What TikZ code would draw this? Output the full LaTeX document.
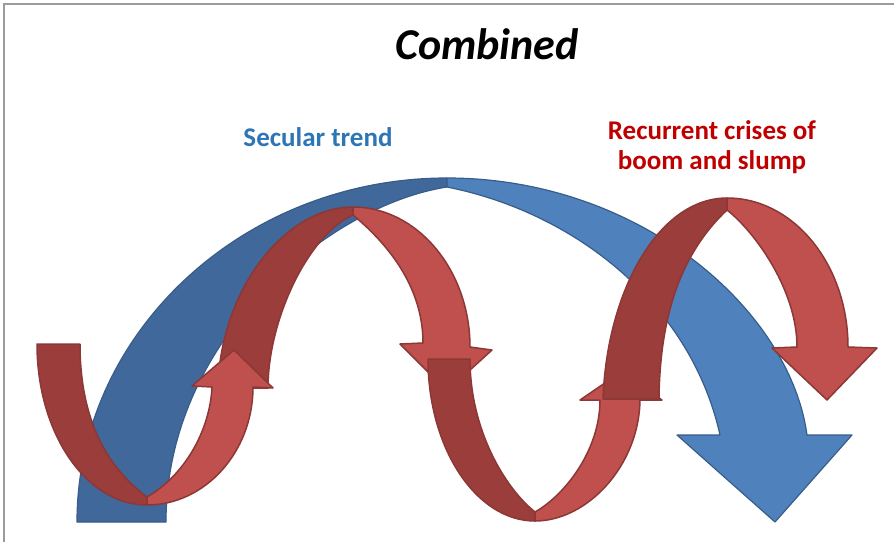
\documentclass[tikz,border=0pt]{standalone}
\usepackage{fontspec}
\setmainfont{Carlito}
\definecolor{bdark}{HTML}{41689A}
\definecolor{blight}{HTML}{4F81BD}
\definecolor{bline}{HTML}{385D8A}
\definecolor{rdark}{HTML}{9A3D3B}
\definecolor{rlight}{HTML}{C0504D}
\definecolor{rline}{HTML}{8C3836}
\definecolor{txtblue}{HTML}{2E75B6}
\definecolor{txtred}{HTML}{C00000}
\definecolor{framegray}{HTML}{9C9C9C}
\tikzset{
  bluedark/.style={fill=bdark, draw=bline, line width=1.2pt, line join=round},
  bluelight/.style={fill=blight, draw=bline, line width=1.2pt, line join=round},
  reddark/.style={fill=rdark, draw=rline, line width=1.5pt, line join=round},
  redlight/.style={fill=rlight, draw=rline, line width=1.5pt, line join=round},
  framestyle/.style={draw=framegray, line width=2pt},
  lbl/.style={inner sep=0pt, anchor=base, font=\fontsize{27}{32}\selectfont\bfseries}
}
\begin{document}
\begin{tikzpicture}[x=1pt, y=-1pt]
\useasboundingbox (0,0) rectangle (894,542);
\fill[white] (0,0) rectangle (894,542);
% frame
\coordinate (fl) at (4,542);
\coordinate (fc) at (4,4);
\coordinate (fr) at (894,4);
\draw[framestyle] (fl) -- (fc) -- (fr);

% ---------- blue secular trend arrow ----------
\path[bluedark] (77,522) .. controls (77,333) and (243,178) .. (447,178)
  -- (447,187)
  .. controls (330,205) and (166,338) .. (166,522) -- cycle;
\path[bluelight] (447,178) .. controls (640,178) and (790,310) .. (807,435)
  -- (852,435) -- (775,522) -- (677,435) -- (720,435)
  .. controls (691,305) and (577,213) .. (447,187) -- cycle;

% ---------- red arrow 2 (dark back part) ----------
\path[reddark] (218,388) .. controls (220,290) and (285,207) .. (353,207)
  -- (353,215)
  .. controls (308,235) and (268,320) .. (268,388) -- cycle;

% ---------- red arrow 1 ----------
\path[reddark] (37,344) .. controls (37,433) and (86,505) .. (147,505)
  -- (147,497)
  .. controls (107,467) and (80,420) .. (80,344) -- cycle;
\path[redlight] (147,497) .. controls (185,475) and (210,430) .. (212,387)
  -- (192,386) -- (234,350) -- (273,388) -- (253,387)
  .. controls (253,452) and (205,505) .. (147,505) -- cycle;

% ---------- red arrow 2 (front part) ----------
\path[redlight] (353,207) .. controls (417,207) and (470,270) .. (470,347)
  -- (492,350) -- (447,391) -- (400,344) -- (423,343)
  .. controls (423,283) and (383,240) .. (353,215) -- cycle;

% ---------- red arrow 3 ----------
\path[reddark] (428,359) .. controls (428,448) and (476,521) .. (535,521)
  -- (535,512)
  .. controls (505,488) and (470,430) .. (470,359) -- cycle;
\path[redlight] (535,521) .. controls (587,521) and (639,466) .. (640,400)
  -- (662,400) -- (621,372) -- (580,400) -- (600,400)
  .. controls (600,450) and (565,495) .. (535,512) -- cycle;

% ---------- red arrow 4 ----------
\path[reddark] (603,399) .. controls (607,290) and (659,198) .. (727,198)
  -- (727,210)
  .. controls (690,245) and (660,300) .. (659,399) -- cycle;
\path[redlight] (727,198) .. controls (794,198) and (848,265) .. (848,347)
  -- (877,348) -- (827,400) -- (772,348) -- (797,347)
  .. controls (797,290) and (755,232) .. (727,210) -- cycle;

% ---------- texts ----------
\node[inner sep=0pt, anchor=base, font=\fontsize{44}{50}\selectfont\bfseries\itshape] (title) at (487,59) {Combined};
\node[lbl, text=txtblue] (secular) at (318,146) {Secular trend};
\node[lbl, text=txtred] (crises1) at (712,139) {Recurrent crises of};
\node[lbl, text=txtred] (crises2) at (712,169) {boom and slump};
\end{tikzpicture}
\end{document}
